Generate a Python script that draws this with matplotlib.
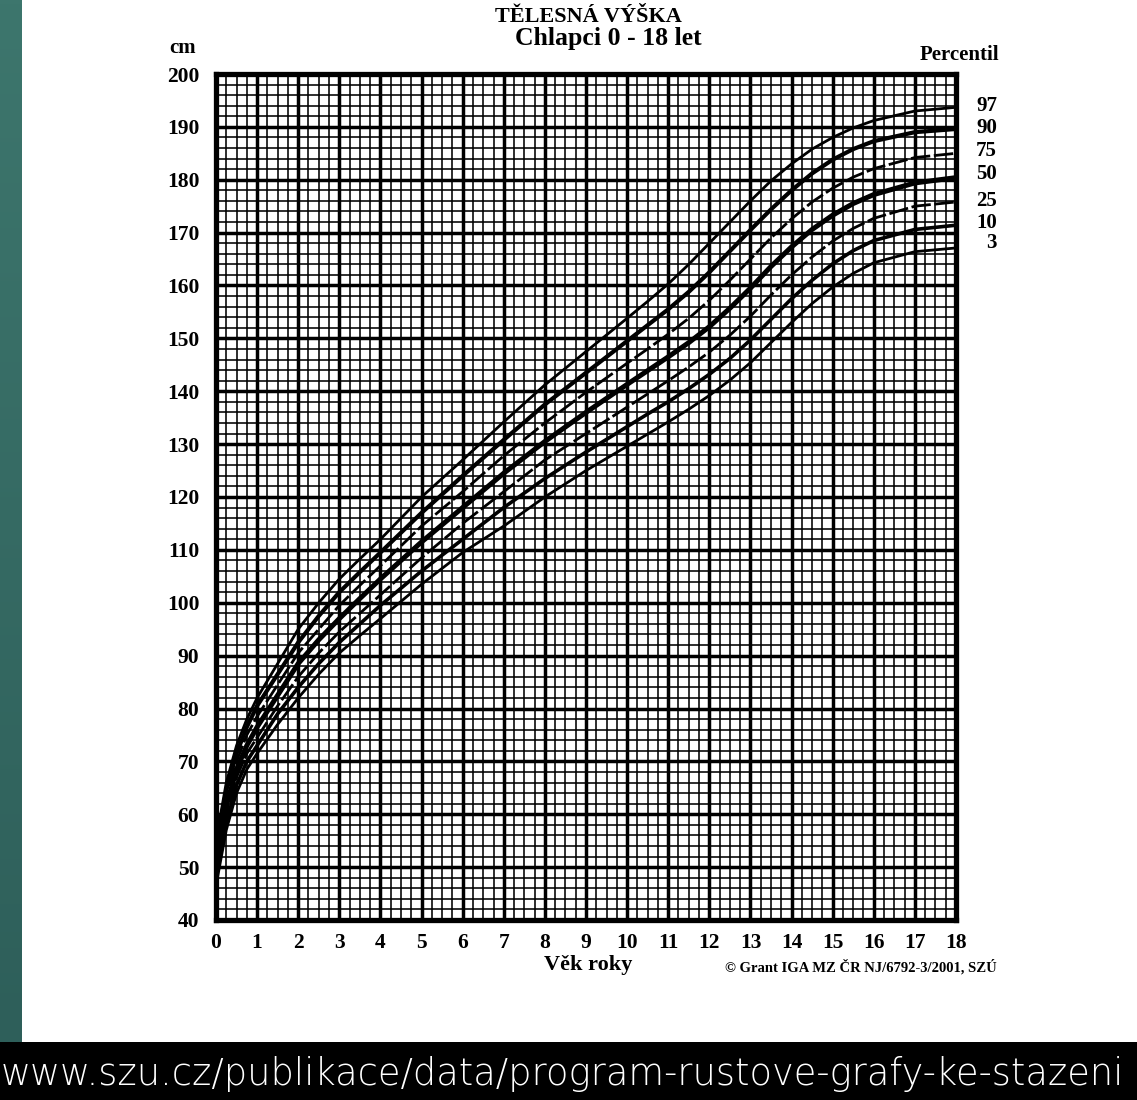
import numpy as np
import matplotlib
matplotlib.use("Agg")
import matplotlib.pyplot as plt
from matplotlib.ticker import MultipleLocator
from matplotlib.colors import LinearSegmentedColormap

# ---- data ----
ages = [0, 0.25, 0.5, 0.75, 1, 1.5, 2, 2.5, 3, 3.5, 4, 5, 6, 7, 8, 9, 10, 10.5, 11, 11.5,
        12, 12.5, 13, 13.5, 14, 14.5, 15, 15.5, 16, 17, 18]
p97 = [55.0, 66.0, 73.0, 78.0, 82.0, 88.5, 95.0, 100.0, 104.5, 108.3, 112.0, 120.0, 127.0, 134.2, 141.2,
       147.5, 153.8, 157.0, 160.3, 164.0, 168.0, 172.0, 176.0, 179.8, 183.0, 185.8, 188.0, 189.8, 191.2, 193.0, 193.7]
p90 = [54.0, 64.5, 71.5, 76.5, 80.5, 86.5, 92.5, 97.5, 102.0, 105.8, 109.5, 117.0, 124.0, 130.8, 137.5,
       143.5, 149.5, 152.5, 155.5, 158.8, 162.5, 166.5, 170.5, 174.4, 178.0, 181.2, 183.8, 185.8, 187.3, 189.0, 189.6]
p75 = [52.5, 63.0, 70.0, 75.0, 78.5, 84.5, 90.5, 95.0, 99.5, 103.3, 107.0, 114.5, 121.0, 127.8, 134.0,
       139.8, 145.3, 148.0, 150.8, 153.8, 157.2, 161.0, 165.0, 169.0, 172.6, 175.8, 178.4, 180.5, 182.1, 184.2, 185.0]
p50 = [51.0, 61.5, 68.5, 73.0, 76.5, 82.5, 88.5, 93.0, 97.0, 100.8, 104.5, 111.5, 118.0, 124.5, 130.5,
       136.0, 141.3, 143.9, 146.5, 149.2, 152.2, 155.7, 159.5, 163.6, 167.3, 170.6, 173.3, 175.5, 177.2, 179.4, 180.4]
p25 = [49.5, 60.0, 67.0, 71.5, 74.5, 80.5, 86.0, 90.5, 94.5, 98.0, 101.5, 108.5, 115.0, 121.0, 127.0,
       132.0, 137.0, 139.5, 142.0, 144.6, 147.4, 150.6, 154.2, 158.2, 162.0, 165.4, 168.4, 170.8, 172.7, 175.0, 175.8]
p10 = [48.0, 58.5, 65.5, 70.0, 73.0, 79.0, 84.0, 88.5, 92.5, 96.0, 99.5, 106.0, 112.0, 118.0, 123.5,
       128.5, 133.3, 135.7, 138.0, 140.5, 143.2, 146.2, 149.7, 153.6, 157.5, 161.0, 164.1, 166.6, 168.5, 170.6, 171.4]
p3 = [46.5, 57.0, 64.0, 68.5, 71.5, 77.0, 82.0, 86.5, 90.5, 93.8, 97.0, 103.5, 109.5, 114.5, 120.0,
      125.0, 129.6, 131.9, 134.2, 136.6, 139.2, 142.1, 145.4, 149.2, 153.0, 156.6, 159.7, 162.3, 164.3, 166.4, 167.1]

percentile_names = ["97", "90", "75", "50", "25", "10", "3"]
label_y = [193.9, 189.8, 185.4, 181.0, 175.9, 171.8, 168.0]
x_ticks = list(range(0, 19))
y_ticks = list(range(40, 201, 10))

series = [p97, p90, p75, p50, p25, p10, p3]
styles = [
    dict(lw=2.0, ls="-"),
    dict(lw=3.0, ls="-"),
    dict(lw=2.0, ls=(0, (7, 1.3))),
    dict(lw=3.6, ls="-"),
    dict(lw=2.0, ls=(0, (7, 1.3))),
    dict(lw=2.6, ls="-"),
    dict(lw=2.0, ls="-"),
]

W, H = 1137, 1100
fig = plt.figure(figsize=(W / 100, H / 100), dpi=100)
fig.patch.set_facecolor("white")

# left teal bar (gradient)
bar = fig.add_axes([0, 1 - 1042 / H, 22 / W, 1042 / H])
grad = np.linspace(0, 1, 256).reshape(-1, 1)
cmap = LinearSegmentedColormap.from_list("teal", ["#3d766d", "#2e5f5a"])
bar.imshow(grad, aspect="auto", cmap=cmap, extent=[0, 1, 0, 1])
bar.set_axis_off()

# bottom black band
band = fig.add_axes([0, 0, 1, 58 / H])
band.set_facecolor("black")
band.set_xticks([]); band.set_yticks([])
for s in band.spines.values():
    s.set_visible(False)
band.text(0.001, 0.45, "www.szu.cz/publikace/data/program-rustove-grafy-ke-stazeni",
          color="white", fontsize=26.5, family="DejaVu Sans", weight="light",
          ha="left", va="center", transform=band.transAxes)

# main chart
ax = fig.add_axes([216 / W, 1 - 920 / H, 740 / W, 846 / H])
ax.set_xlim(0, 18)
ax.set_ylim(40, 200)
ax.xaxis.set_major_locator(MultipleLocator(1))
ax.xaxis.set_minor_locator(MultipleLocator(0.25))
ax.yaxis.set_major_locator(MultipleLocator(10))
ax.yaxis.set_minor_locator(MultipleLocator(2))
ax.grid(which="minor", color="black", lw=1.15, zorder=1)
ax.grid(which="major", color="black", lw=2.5, zorder=1)
ax.set_axisbelow(True)
for s in ax.spines.values():
    s.set_linewidth(3.8)
    s.set_color("black")
ax.tick_params(which="both", length=0)
ax.tick_params(axis="y", pad=12)
ax.tick_params(axis="x", pad=9)
ax.set_xticks(x_ticks)
ax.set_yticks(y_ticks)
serif = "Liberation Serif"
ax.set_xticklabels([str(v) for v in x_ticks], fontfamily=serif, fontweight="bold", fontsize=15.5)
ax.set_yticklabels([str(v) for v in y_ticks], fontfamily=serif, fontweight="bold", fontsize=15.5)

for vals, st in zip(series, styles):
    ax.plot(ages, vals, color="black", solid_capstyle="butt", solid_joinstyle="round", zorder=3, **st)

for name, yv in zip(percentile_names, label_y):
    ax.text(1.0555, yv, name, transform=ax.get_yaxis_transform(), ha="right", va="center",
            fontfamily=serif, fontweight="bold", fontsize=15)

# texts
fig.text(588 / W, 1 - 17 / H, "TĚLESNÁ VÝŠKA", ha="center", va="center",
         fontfamily=serif, fontweight="bold", fontsize=16)
fig.text(608 / W, 1 - 39 / H, "Chlapci 0 - 18 let", ha="center", va="center",
         fontfamily=serif, fontweight="bold", fontsize=18.5)
fig.text(183 / W, 1 - 48 / H, "cm", ha="center", va="center",
         fontfamily=serif, fontweight="bold", fontsize=15)
fig.text(999 / W, 1 - 55 / H, "Percentil", ha="right", va="center",
         fontfamily=serif, fontweight="bold", fontsize=15)
fig.text(588 / W, 1 - 965 / H, "Věk roky", ha="center", va="center",
         fontfamily=serif, fontweight="bold", fontsize=16)
fig.text(725 / W, 1 - 967 / H, "© Grant IGA MZ ČR NJ/6792-3/2001, SZÚ", ha="left", va="center",
         fontfamily=serif, fontweight="bold", fontsize=10.5)

fig.savefig("out.png", dpi=100, facecolor="white")
